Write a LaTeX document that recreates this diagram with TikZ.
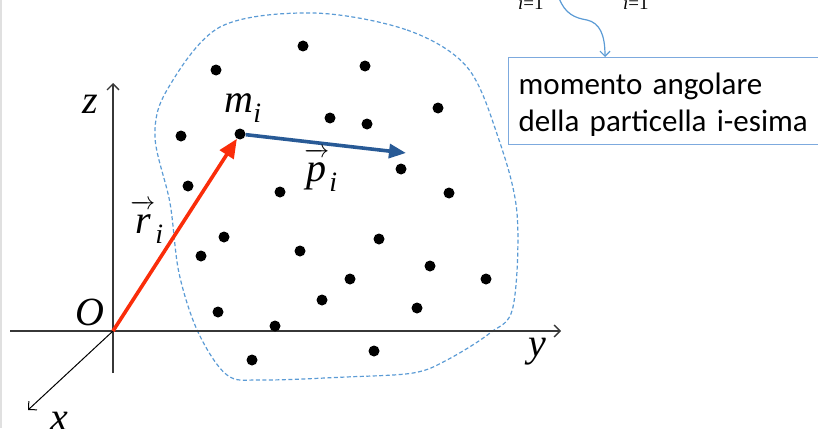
\documentclass[tikz,border=0pt]{standalone}
\usepackage{fontspec}
\usepackage{amsmath}
\setmainfont{Liberation Serif}
\newfontfamily\boxfont{Carlito}
\usetikzlibrary{arrows.meta}
\definecolor{rvec}{RGB}{250,45,10}
\definecolor{pvec}{RGB}{40,90,150}
\definecolor{bound}{RGB}{91,155,213}
\definecolor{boxline}{RGB}{125,170,222}
\definecolor{axgray}{RGB}{55,55,55}
\newcommand{\vlbl}[2]{$\overrightarrow{\textit{#1}\rule{0pt}{24pt}}_{\textit{#2}}$}

\begin{document}
\begin{tikzpicture}[x=1pt, y=-1pt,
  dot/.style={circle, fill=black, inner sep=0pt, minimum size=11pt},
  axis/.style={axgray, line width=1.4pt, -{Straight Barb[length=6pt,width=12pt]}},
  lbl/.style={font=\fontsize{40}{46}\selectfont\itshape, inner sep=0pt},
  sumlbl/.style={font=\fontsize{19}{22}\selectfont, inner sep=0pt, anchor=base west}]
  \useasboundingbox (0,0) rectangle (818,428);
  \fill[black!12] (0,0) rectangle (2,428);

  % region of the system
  \draw[bound, line width=1.2pt, dash pattern=on 4pt off 2.5pt]
    plot[smooth cycle, tension=0.55] coordinates {
      (313,13) (407,30) (467,67) (498,137) (517,213) (513,307) (490,333)
      (447,360) (413,373) (346,377) (262,380) (227,375) (198,332)
      (179,273) (170,203) (155,137) (167,90) (220,27)};

  % axes
  \coordinate (O) at (113,331);
  \coordinate (yend) at (10,331);
  \coordinate (ytip) at (561,331);
  \coordinate (zend) at (113,373);
  \coordinate (ztip) at (113,83);
  \coordinate (xtip) at (28,410);
  \draw[axis] (yend) -- (ytip);
  \draw[axis] (zend) -- (ztip);
  \draw[axis, black, line width=1pt] (O) -- (xtip);
  \node[lbl] (zl) at (90,104) {z};
  \node[lbl] (ol) at (90,312) {O};
  \node[lbl] (yl) at (537,352) {y};
  \node[lbl] (xl) at (59,421) {x};

  % particles
  \foreach \px/\py in {303/46, 365/66, 216/70, 438/108, 330/118, 367/124,
    181/136, 401/169, 188/186, 280/192, 449/193, 224/237, 379/239,
    300/251, 201/256, 430/266, 350/279, 486/279, 322/300, 218/312,
    417/308, 275/326, 252/360, 374/351}
    \fill (\px,\py) circle (5.5);
  \node[dot] (m) at (240,134) {};
  \node[lbl] (ml) at (243,108) {m$_{\textit{i}}$};

  % position and momentum
  \coordinate (pend) at (406,153);
  \draw[rvec, line width=3.6pt, -{Triangle[length=19pt,width=16pt]}] (O) -- (m);
  \draw[pvec, line width=3.6pt, -{Triangle[length=17pt,width=14pt]}] (m) -- (pend);
  \node[lbl] (rl) at (147,222) {\vlbl{r}{i}};
  \node[lbl] (pl) at (321,170) {\vlbl{p}{i}};

  % label box
  \node[draw=boxline, line width=1.3pt, anchor=north west, align=left,
    text width=340pt, inner xsep=10pt, inner ysep=0pt, minimum height=87pt,
    font=\boxfont\fontsize{31}{37}\selectfont] (box) at (508,57)
    {\rule{0pt}{29pt}momento angolare\\della particella i-esima};
  \node[sumlbl] (s1) at (518,10) {\textit{i}=1};
  \node[sumlbl] (s2) at (623,10) {\textit{i}=1};
  \coordinate (c0) at (559,-2);
  \coordinate (ctip) at (605,57);
  \draw[bound, line width=1.2pt, -{Straight Barb[length=5pt,width=10pt]}]
    (c0) .. controls (565,14) and (575,18) .. (587,20)
    .. controls (600,23) and (605,35) .. (ctip);
\end{tikzpicture}
\end{document}
